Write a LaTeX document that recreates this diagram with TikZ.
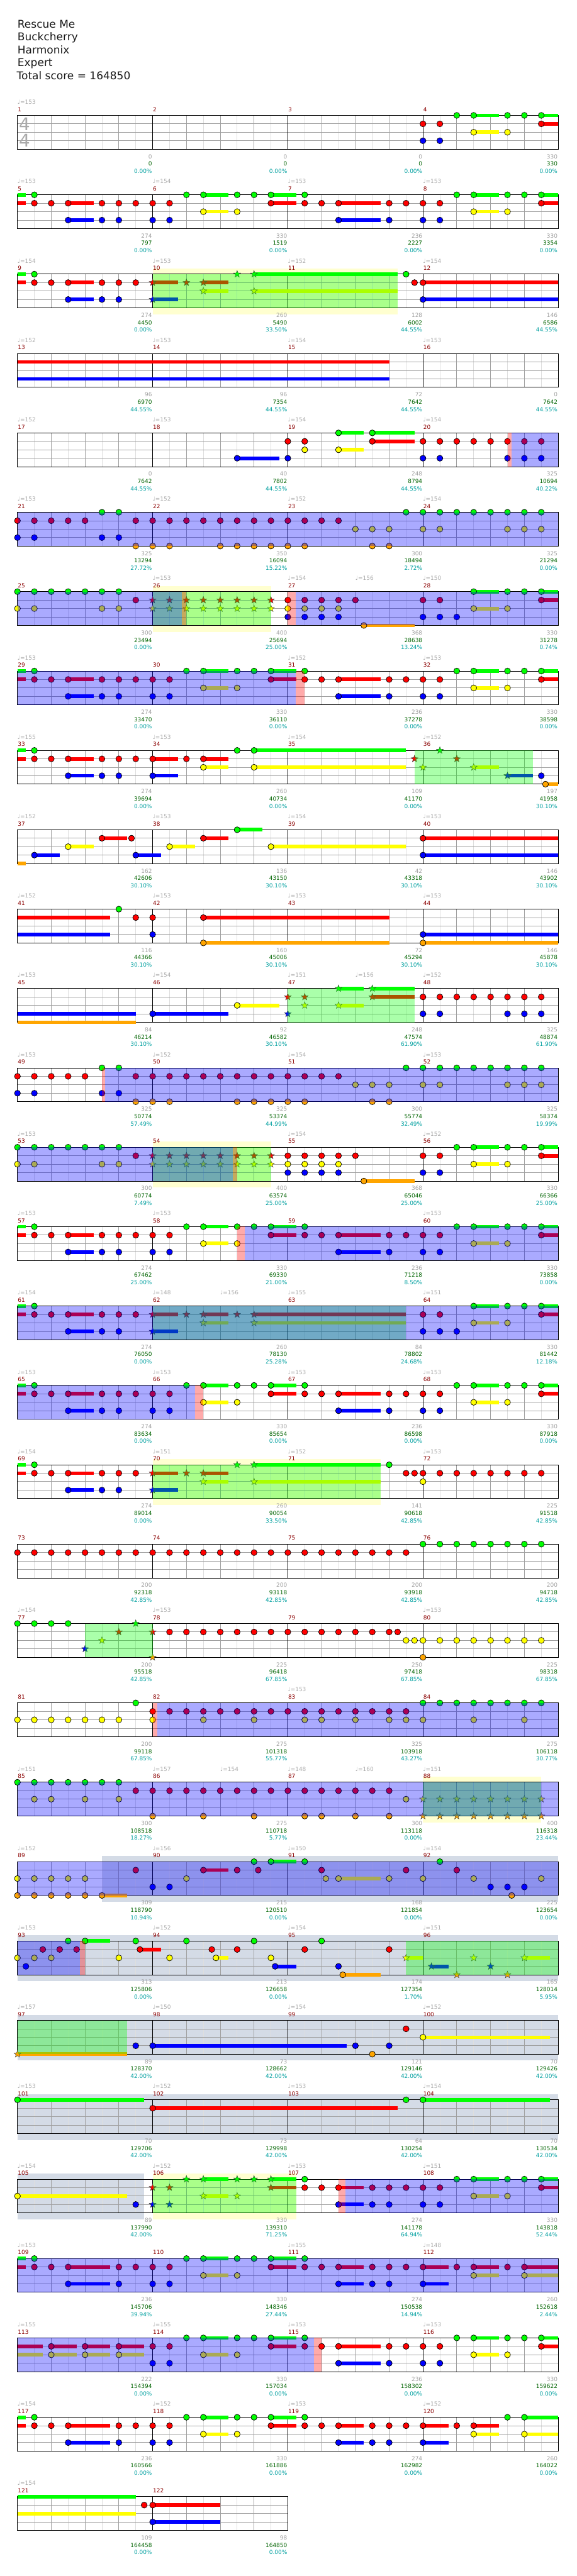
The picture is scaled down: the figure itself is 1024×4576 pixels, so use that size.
\documentclass[tikz,border=0pt]{standalone}
\usepackage{fontspec}
\setmainfont{DejaVu Sans}
\definecolor{lc0}{RGB}{0,255,0}
\definecolor{lc1}{RGB}{255,0,0}
\definecolor{lc2}{RGB}{255,255,0}
\definecolor{lc3}{RGB}{0,0,255}
\definecolor{lc4}{RGB}{255,165,0}
\definecolor{mred}{RGB}{139,0,0}
\definecolor{sgray}{RGB}{160,160,160}
\definecolor{sgreen}{RGB}{0,100,0}
\definecolor{steal}{RGB}{0,160,160}
\definecolor{tgray}{RGB}{170,170,170}
\definecolor{beatg}{RGB}{160,160,160}
\definecolor{halfg}{RGB}{222,222,222}
\definecolor{paley}{RGB}{255,255,208}
\definecolor{bandg}{RGB}{212,219,230}
\definecolor{hdr}{RGB}{25,25,25}
\newcommand\GRID[1]{%
 \foreach \i in {1,...,#1}{\draw[halfl] ({\i-0.5},0) -- ({\i-0.5},4);}%
 \foreach \i in {1,...,#1}{\draw[beatl] (\i,0) -- (\i,4);}%
 \foreach \j in {1,2,3}{\draw[lanel] (0,\j) -- (#1,\j);}%
 \foreach \i in {4,8,...,#1}{\draw[barl] (\i,0) -- (\i,4);}%
 \draw[barl] (0,0) rectangle (#1,4);}
\newcommand\NT[2]{\foreach \yy in {#2}{\foreach \xx in {#1}{\filldraw[notec,fill=lc\yy] (\xx,\yy) circle[radius=5.3pt];}}}
\newcommand\STR[2]{\foreach \yy in {#2}{\foreach \xx in {#1}{\filldraw[starc,fill=lc\yy] (\xx,\yy) +(90:6.5pt) -- +(126:2.7pt) -- +(162:6.5pt) -- +(198:2.7pt) -- +(234:6.5pt) -- +(270:2.7pt) -- +(306:6.5pt) -- +(342:2.7pt) -- +(18:6.5pt) -- +(54:2.7pt) -- cycle;}}}
\newcommand\SU[3]{\foreach \yy in {#3}{\draw[sus,draw=lc\yy] (#1,\yy) -- (#2,\yy);}}
\newcommand\OV[3]{\fill[#1,opacity=0.333] (#2,0) rectangle (#3,4);}
\newcommand\BD[3]{\fill[#1] (#2,-0.667) rectangle (#3,4.75);}
\newcommand\MM[5]{%
 \node[mnum] (mn#2) at ({4*#1},-0.47) {#2};
 \node[sca] (sa#2) at ({4*#1+4},5.11) {#3};
 \node[scb] (sb#2) at ({4*#1+4},5.98) {#4};
 \node[scc] (sc#2) at ({4*#1+4},6.85) {#5};}
\newcommand\TP[3]{\node[tmp] (#1) at (#2,-1.33) {\char"2669=#3};}
\newcommand\PatA{%
 \SU{0}{0.25}{0,1}\SU{1.5}{2.25}{1,3}\SU{5.5}{6.25}{0,2}\SU{7.5}{8.25}{0,1}\SU{9.5}{10.75}{1,3}\SU{13.5}{14.25}{0,2}\SU{15.5}{16}{0,1}%
 \NT{0.5,5,5.5,6.5,7,7.5,8.5,13,13.5,14.5,15,15.5}{0}%
 \NT{0.5,1,1.5,2.5,3,3.5,4,4.5,7.5,8.5,9,9.5,11,11.5,12,12.5,15.5}{1}%
 \NT{1.5,2.5,3,4,4.5,9.5,11,12,12.5}{3}%
 \NT{5.5,6.5,13.5,14.5}{2}}
\begin{document}
\begin{tikzpicture}[x=1pt,y=-1pt,
 notec/.style={draw=black,line width=0.8pt},
 starc/.style={draw=black!75,line width=0.5pt},
 sus/.style={line width=6.5pt,line cap=butt},
 halfl/.style={draw=halfg,line width=1pt},
 beatl/.style={draw=beatg,line width=1pt},
 lanel/.style={draw=beatg,line width=1pt},
 barl/.style={draw=black,line width=1pt},
 lbl/.style={inner sep=0pt,font=\fontsize{10}{12}\selectfont},
 mnum/.style={lbl,anchor=base west,text=mred,xshift=0.5pt},
 sca/.style={lbl,anchor=base east,text=sgray,xshift=-1pt},
 scb/.style={lbl,anchor=base east,text=sgreen,xshift=-1pt},
 scc/.style={lbl,anchor=base east,text=steal,xshift=-1pt},
 tmp/.style={lbl,anchor=base west,text=tgray},
 hd/.style={anchor=base west,inner sep=0pt,text=hdr,font=\fontsize{19}{23}\selectfont},
 ts/.style={inner sep=0pt,text=tgray,font=\fontsize{31}{31}\selectfont},
 rowat/.style={shift={(31,{205+141*#1})},x=60pt,y=-15pt}]
\useasboundingbox (0,0) rectangle (1024,4576);
\fill[white] (0,0) rectangle (1024,4576);
\node[hd] (h1) at (31,49.3) {Rescue Me};
\node[hd] (h2) at (31,72.3) {Buckcherry};
\node[hd] (h3) at (31,95.3) {Harmonix};
\node[hd] (h4) at (31,118.3) {Expert};
\node[hd] (h5) at (29.5,141.7) {Total score = 164850};
% row 0
\begin{scope}[rowat=0]
\GRID{16}
\node[ts] (ts1) at (0.21,1) {4};
\node[ts] (ts2) at (0.21,3) {4};
\SU{13.5}{14.25}{0,2}\SU{15.5}{16}{0,1}
\NT{12,12.5}{1,3}\NT{13,13.5,14.5,15,15.5}{0}\NT{13.5,14.5}{2}\NT{15.5}{1}
\TP{t1}{0}{153}
\MM{0}{1}{0}{0}{0.00\%}\MM{1}{2}{0}{0}{0.00\%}\MM{2}{3}{0}{0}{0.00\%}\MM{3}{4}{330}{330}{0.00\%}
\end{scope}
% row 1
\begin{scope}[rowat=1]
\GRID{16}
\PatA
\TP{t5}{0}{153}\TP{t6}{4}{154}\TP{t7}{8}{153}\TP{t8}{12}{153}
\MM{0}{5}{274}{797}{0.00\%}\MM{1}{6}{330}{1519}{0.00\%}\MM{2}{7}{236}{2227}{0.00\%}\MM{3}{8}{330}{3354}{0.00\%}
\end{scope}
% row 2
\begin{scope}[rowat=2]
\BD{paley}{4}{11.25}
\GRID{16}
\SU{0}{0.25}{0,1}\SU{1.5}{2.25}{1,3}\SU{4}{4.75}{1,3}\SU{5.5}{6.25}{1,2}\SU{7}{11.25}{0,2}\SU{12}{16}{1,3}
\NT{0.5}{0}\NT{0.5,1,1.5,2.5,3,3.5}{1}\NT{1.5,2.5,3}{3}
\STR{4}{1,3}\STR{5}{1}\STR{5.5}{1,2}\STR{6.5}{0}\STR{7}{0,2}
\NT{11.5}{0}\NT{11.75,12}{1}\NT{12}{3}
\OV{lc0}{4}{11.25}
\TP{t9}{0}{154}\TP{t10}{4}{153}\TP{t11}{8}{152}\TP{t12}{12}{154}
\MM{0}{9}{274}{4450}{0.00\%}\MM{1}{10}{260}{5490}{33.50\%}\MM{2}{11}{128}{6002}{44.55\%}\MM{3}{12}{146}{6586}{44.55\%}
\end{scope}
% row 3
\begin{scope}[rowat=3]
\GRID{16}
\SU{0}{11}{1,3}
\TP{t13}{0}{152}\TP{t14}{4}{153}\TP{t15}{8}{154}\TP{t16}{12}{153}
\MM{0}{13}{96}{6970}{44.55\%}\MM{1}{14}{96}{7354}{44.55\%}\MM{2}{15}{72}{7642}{44.55\%}\MM{3}{16}{0}{7642}{44.55\%}
\end{scope}
% row 4
\begin{scope}[rowat=4]
\GRID{16}
\SU{6.5}{7.75}{3}\SU{9.5}{10.25}{0,2}\SU{10.5}{11.75}{0,1}
\NT{6.5,8,12,12.5,14.5,15,15.5}{3}
\NT{8,8.5,10.5,12,12.5,13,13.5,14,14.5,15,15.5}{1}
\NT{8.5,9.5}{2}\NT{9.5,10.5}{0}
\OV{lc1}{14.5}{14.62}\OV{lc3}{14.62}{16}
\TP{t17}{0}{152}\TP{t18}{4}{153}\TP{t19}{8}{154}\TP{t20}{12}{154}
\MM{0}{17}{0}{7642}{44.55\%}\MM{1}{18}{40}{7802}{44.55\%}\MM{2}{19}{248}{8794}{44.55\%}\MM{3}{20}{325}{10694}{40.22\%}
\end{scope}
% row 5
\begin{scope}[rowat=5]
\GRID{16}
\NT{0,0.5,1,1.5,2}{1}\NT{3.5,4,...,9.5}{1}
\NT{2.5,3}{0}\NT{11.5,12,...,15.5}{0}
\NT{0,0.5,2.5,3}{3}
\NT{3.5,4,4.5,6,6.5,7,7.5,8,8.5,10.5,11}{4}
\NT{10,10.5,11,12,12.5,14.5,15,15.5}{2}
\OV{lc3}{0}{16}
\TP{t21}{0}{153}\TP{t22}{4}{152}\TP{t23}{8}{152}\TP{t24}{12}{154}
\MM{0}{21}{325}{13294}{27.72\%}\MM{1}{22}{350}{16094}{15.22\%}\MM{2}{23}{300}{18494}{2.72\%}\MM{3}{24}{325}{21294}{0.00\%}
\end{scope}
% row 6
\begin{scope}[rowat=6]
\BD{paley}{4}{7.5}
\GRID{16}
\SU{10.25}{11.75}{4}\SU{13.5}{14.25}{0,2}\SU{15.5}{16}{0,1}
\NT{0,0.5,...,3}{0}\NT{0,0.5,2.5,3}{2}\NT{3.5}{1}
\STR{4,4.5,...,7.5}{1,2}
\NT{8,8.5,9,9.5,10,12,12.5,15.5}{1}\NT{8,8.5,9,9.5}{2,3}\NT{10.25}{4}\NT{12,12.5,13}{3}\NT{13.5,14.5,15,15.5}{0}\NT{13.5,14.5}{2}
\OV{lc0}{4}{7.5}\OV{lc3}{0}{4.87}\OV{lc1}{4.87}{5}\OV{lc1}{8}{8.23}\OV{lc3}{8.23}{16}
\TP{t26}{4}{153}\TP{t27}{8}{154}\TP{t27b}{10}{156}\TP{t28}{12}{150}
\MM{0}{25}{300}{23494}{0.00\%}\MM{1}{26}{400}{25694}{25.00\%}\MM{2}{27}{368}{28638}{13.24\%}\MM{3}{28}{330}{31278}{0.74\%}
\end{scope}
% row 7
\begin{scope}[rowat=7]
\GRID{16}
\PatA
\OV{lc3}{0}{8.23}\OV{lc1}{8.23}{8.5}
\TP{t29}{0}{153}\TP{t31}{8}{152}\TP{t32}{12}{153}
\MM{0}{29}{274}{33470}{0.00\%}\MM{1}{30}{330}{36110}{0.00\%}\MM{2}{31}{236}{37278}{0.00\%}\MM{3}{32}{330}{38598}{0.00\%}
\end{scope}
% row 8
\begin{scope}[rowat=8]
\GRID{16}
\SU{0}{0.25}{0,1}\SU{1.5}{2.25}{1,3}\SU{4}{4.75}{1,3}\SU{5.5}{6.25}{1,2}\SU{7}{11.5}{0,2}\SU{13.5}{14.25}{2}\SU{14.5}{15.25}{3}\SU{15.625}{16}{4}
\NT{0.5,6.5,7}{0}\NT{0.5,1,1.5,2.5,3,3.5,4,5,5.5}{1}\NT{1.5,2.5,3,4,15.5}{3}\NT{5.5,7}{2}
\STR{11.75,13}{1}\STR{12.5}{0}\STR{12,13.5}{2}\STR{14.5}{3}\NT{15.625}{4}
\OV{lc0}{11.75}{15.25}
\TP{t33}{0}{155}\TP{t34}{4}{153}\TP{t35}{8}{154}\TP{t36}{12}{152}
\MM{0}{33}{274}{39694}{0.00\%}\MM{1}{34}{260}{40734}{0.00\%}\MM{2}{35}{109}{41170}{0.00\%}\MM{3}{36}{197}{41958}{30.10\%}
\end{scope}
% row 9
\begin{scope}[rowat=9]
\GRID{16}
\SU{0}{0.25}{4}\SU{0.5}{1.25}{3}\SU{1.5}{2.25}{2}\SU{2.5}{3.25}{1}\SU{3.5}{4.25}{3}\SU{4.5}{5.25}{2}\SU{5.5}{6.25}{1}\SU{6.5}{7.25}{0}\SU{7.5}{11.5}{2}\SU{12}{16}{1,3}
\NT{0.5,3.5,12}{3}\NT{1.5,4.5,7.5}{2}\NT{2.5,3.375,5.5,12}{1}\NT{6.5}{0}
\TP{t37}{0}{152}\TP{t38}{4}{153}\TP{t39}{8}{154}\TP{t40}{12}{153}
\MM{0}{37}{162}{42606}{30.10\%}\MM{1}{38}{136}{43150}{30.10\%}\MM{2}{39}{42}{43318}{30.10\%}\MM{3}{40}{146}{43902}{30.10\%}
\end{scope}
% row 10
\begin{scope}[rowat=10]
\GRID{16}
\SU{0}{2.75}{1,3}\SU{5.5}{11}{1,4}\SU{12}{16}{3,4}
\NT{3}{0}\NT{3.5,4,5.5}{1}\NT{4,12}{3}\NT{5.5,12}{4}
\TP{t41}{0}{152}\TP{t42}{4}{153}\TP{t43}{8}{153}\TP{t44}{12}{153}
\MM{0}{41}{116}{44366}{30.10\%}\MM{1}{42}{160}{45006}{30.10\%}\MM{2}{43}{72}{45294}{30.10\%}\MM{3}{44}{146}{45878}{30.10\%}
\end{scope}
% row 11
\begin{scope}[rowat=11]
\GRID{16}
\SU{0}{3.5}{3,4}\SU{4}{6.25}{3}\SU{6.5}{7.75}{2}\SU{9.5}{10.25}{0,2}\SU{10.5}{11.75}{0,1}
\NT{4}{3}\NT{6.5}{2}
\STR{8}{1,3}\STR{8.5}{1,2}\STR{9.5}{0,2}\STR{10.5}{0,1}
\NT{12,12.5,...,15.5}{1}\NT{12,12.5,14.5,15,15.5}{3}
\OV{lc0}{8}{11.75}
\TP{t45}{0}{153}\TP{t46}{4}{154}\TP{t47}{8}{151}\TP{t47b}{10}{156}\TP{t48}{12}{152}
\MM{0}{45}{84}{46214}{30.10\%}\MM{1}{46}{92}{46582}{30.10\%}\MM{2}{47}{248}{47574}{61.90\%}\MM{3}{48}{325}{48874}{61.90\%}
\end{scope}
% row 12
\begin{scope}[rowat=12]
\GRID{16}
\NT{0,0.5,1,1.5,2}{1}\NT{3.5,4,...,9.5}{1}
\NT{0,0.5,2.5,3}{3}
\NT{2.5,3}{0}\NT{11.5,12,...,15.5}{0}
\NT{3.5,4,4.5,6.5,7,7.5,8,8.5,10.5,11}{4}
\NT{10,10.5,11,12,12.5,14.5,15,15.5}{2}
\OV{lc1}{2.5}{2.6}\OV{lc3}{2.6}{16}
\TP{t49}{0}{153}\TP{t50}{4}{152}\TP{t51}{8}{154}\TP{t52}{12}{153}
\MM{0}{49}{325}{50774}{57.49\%}\MM{1}{50}{325}{53374}{44.99\%}\MM{2}{51}{300}{55774}{32.49\%}\MM{3}{52}{325}{58374}{19.99\%}
\end{scope}
% row 13
\begin{scope}[rowat=13]
\BD{paley}{4}{7.5}
\GRID{16}
\SU{10.25}{11.75}{4}\SU{13.5}{14.25}{0,2}\SU{15.5}{16}{0,1}
\NT{0,0.5,...,3}{0}\NT{0,0.5,2.5,3}{2}\NT{3.5}{1}
\STR{4,4.5,...,7.5}{1,2}
\NT{8,8.5,9,9.5,10,12,12.5,15.5}{1}\NT{8,8.5,9,9.5}{2,3}\NT{10.25}{4}\NT{12,12.5}{3}\NT{13,13.5,14.5,15,15.5}{0}\NT{13.5,14.5}{2}
\OV{lc0}{4}{7.5}\OV{lc3}{0}{6.38}\OV{lc1}{6.38}{6.5}
\TP{t53}{0}{153}\TP{t55}{8}{154}\TP{t56}{12}{152}
\MM{0}{53}{300}{60774}{7.49\%}\MM{1}{54}{400}{63574}{25.00\%}\MM{2}{55}{368}{65046}{25.00\%}\MM{3}{56}{330}{66366}{25.00\%}
\end{scope}
% row 14
\begin{scope}[rowat=14]
\GRID{16}
\PatA
\OV{lc1}{6.5}{6.73}\OV{lc3}{6.73}{16}
\TP{t57}{0}{153}\TP{t58}{4}{153}\TP{t60}{12}{153}
\MM{0}{57}{274}{67462}{25.00\%}\MM{1}{58}{330}{69330}{21.00\%}\MM{2}{59}{236}{71218}{8.50\%}\MM{3}{60}{330}{73858}{0.00\%}
\end{scope}
% row 15
\begin{scope}[rowat=15]
\GRID{16}
\SU{0}{0.25}{0,1}\SU{1.5}{2.25}{1,3}\SU{4}{4.75}{1,3}\SU{5.5}{6.25}{1,2}\SU{7}{11.5}{1,2}\SU{13.5}{14.25}{0,2}\SU{15.5}{16}{0,1}
\NT{0.5}{0}\NT{0.5,1,1.5,2.5,3,3.5}{1}\NT{1.5,2.5,3}{3}
\STR{4,5,5.5,6.5,7}{1}\STR{4}{3}\STR{5.5,7}{2}
\NT{12,12.5,15.5}{1}\NT{12,12.5,13}{3}\NT{13.5,14.5,15,15.5}{0}\NT{13.5,14.5}{2}
\OV{lc0}{4}{11.5}\OV{lc3}{0}{16}
\TP{t61}{0}{154}\TP{t62}{4}{148}\TP{t62b}{6}{156}\TP{t63}{8}{155}\TP{t64}{12}{151}
\MM{0}{61}{274}{76050}{0.00\%}\MM{1}{62}{260}{78130}{25.28\%}\MM{2}{63}{84}{78802}{24.68\%}\MM{3}{64}{330}{81442}{12.18\%}
\end{scope}
% row 16
\begin{scope}[rowat=16]
\GRID{16}
\PatA
\OV{lc3}{0}{5.25}\OV{lc1}{5.25}{5.5}
\TP{t65}{0}{153}\TP{t66}{4}{153}\TP{t67}{8}{153}\TP{t68}{12}{153}
\MM{0}{65}{274}{83634}{0.00\%}\MM{1}{66}{330}{85654}{0.00\%}\MM{2}{67}{236}{86598}{0.00\%}\MM{3}{68}{330}{87918}{0.00\%}
\end{scope}
% row 17
\begin{scope}[rowat=17]
\BD{paley}{4}{10.75}
\GRID{16}
\SU{0}{0.25}{0,1}\SU{1.5}{2.25}{1,3}\SU{4}{4.75}{1,3}\SU{5.5}{6.25}{1,2}\SU{7}{10.75}{0,2}
\NT{0.5}{0}\NT{0.5,1,1.5,2.5,3,3.5}{1}\NT{1.5,2.5,3}{3}
\STR{4,5,5.5}{1}\STR{4}{3}\STR{5.5,7}{2}\STR{6.5,7}{0}
\NT{11}{0}\NT{11.5,11.75}{1}\NT{12,12.5,...,15.5}{1}\NT{12}{2}
\OV{lc0}{4}{10.75}
\TP{t69}{0}{154}\TP{t70}{4}{151}\TP{t71}{8}{152}\TP{t72}{12}{153}
\MM{0}{69}{274}{89014}{0.00\%}\MM{1}{70}{260}{90054}{33.50\%}\MM{2}{71}{141}{90618}{42.85\%}\MM{3}{72}{225}{91518}{42.85\%}
\end{scope}
% row 18
\begin{scope}[rowat=18]
\GRID{16}
\NT{0,0.5,...,11.5}{1}\NT{12,12.5,...,15.5}{0}
\MM{0}{73}{200}{92318}{42.85\%}\MM{1}{74}{200}{93118}{42.85\%}\MM{2}{75}{200}{93918}{42.85\%}\MM{3}{76}{200}{94718}{42.85\%}
\end{scope}
% row 19
\begin{scope}[rowat=19]
\GRID{16}
\NT{0,0.5,1,1.5}{0}
\STR{2}{3}\STR{2.5}{2}\STR{3}{1}\STR{3.5}{0}\STR{4}{1,4}
\NT{4.5,5,...,11}{1}\NT{11.25}{1}
\NT{11.5,11.75}{2}\NT{12,12.5,...,15.5}{2}\NT{12}{4}
\OV{lc0}{2}{4}
\TP{t77}{0}{154}\TP{t78}{4}{153}\TP{t80}{12}{153}
\MM{0}{77}{200}{95518}{42.85\%}\MM{1}{78}{225}{96418}{67.85\%}\MM{2}{79}{250}{97418}{67.85\%}\MM{3}{80}{225}{98318}{67.85\%}
\end{scope}
% row 20
\begin{scope}[rowat=20]
\GRID{16}
\NT{0,0.5,...,3}{2}\NT{3.5}{0}
\NT{4,4.5,...,11.5}{1}
\NT{4,5.5,7,8.5,9,10,11,11.5,12,13.5,15}{2}
\NT{12,12.5,...,15.5}{0}
\OV{lc1}{4}{4.13}\OV{lc3}{4.13}{16}
\TP{t83}{8}{153}
\MM{0}{81}{200}{99118}{67.85\%}\MM{1}{82}{275}{101318}{55.77\%}\MM{2}{83}{325}{103918}{43.27\%}\MM{3}{84}{275}{106118}{30.77\%}
\end{scope}
% row 21
\begin{scope}[rowat=21]
\BD{paley}{12}{15.5}
\GRID{16}
\NT{0,0.5,...,3}{0}\NT{0.5,1,2,3,11.5}{2}
\NT{3.5,4,...,11}{1}
\NT{4,5.5,7,8.5,9,10,11}{4}
\STR{12,12.5,...,15.5}{2,4}
\OV{lc0}{12}{15.5}\OV{lc3}{0}{16}
\TP{t85}{0}{151}\TP{t86}{4}{157}\TP{t86b}{6}{154}\TP{t87}{8}{148}\TP{t87b}{10}{160}\TP{t88}{12}{151}
\MM{0}{85}{300}{108518}{18.27\%}\MM{1}{86}{275}{110718}{5.77\%}\MM{2}{87}{300}{113118}{0.00\%}\MM{3}{88}{400}{116318}{23.44\%}
\end{scope}
% row 22
\begin{scope}[rowat=22]
\BD{bandg}{2.5}{16}
\GRID{16}
\SU{2.5}{3.25}{4}\SU{5.5}{6.25}{1}\SU{7.5}{8.25}{0}\SU{9.5}{10.75}{2}
\NT{0,0.5,1,1.5,2,5,9.125,9.5,11,12,13.5,15.5}{2}
\NT{0,0.5,1,1.5,2,2.5,14.625}{4}
\NT{3.5,5.5,6.5,7.125,9,11.5,13}{1}
\NT{4,4.5,14,14.5,15}{3}
\NT{7,7.5,8.5,12.5}{0}
\OV{lc3}{0}{16}
\TP{t89}{0}{152}\TP{t90}{4}{156}\TP{t91}{8}{150}\TP{t92}{12}{154}
\MM{0}{89}{309}{118790}{10.94\%}\MM{1}{90}{215}{120510}{0.00\%}\MM{2}{91}{168}{121854}{0.00\%}\MM{3}{92}{225}{123654}{0.00\%}
\end{scope}
% row 23
\begin{scope}[rowat=23]
\BD{bandg}{0}{16}
\GRID{16}
\SU{2}{2.75}{0}\SU{3.625}{4.25}{1}\SU{5.875}{6.25}{2}\SU{7.625}{8.25}{3}\SU{9.625}{10.75}{4}\SU{11.5}{12}{2}\SU{12.25}{12.75}{3}\SU{15}{15.75}{2}
\NT{0,0.5,1,3,4.5,5.875,7.5}{2}
\NT{0.25,7.625,9.5}{3}
\NT{0.75,1.25,1.75,3.625,5.75,6.5,8.5,11}{1}
\NT{1.5,2,3.5,5,7,9}{0}
\NT{9.625}{4}
\STR{11.5,13.5,15}{2}\STR{12.25,14}{3}\STR{13,14.5}{4}
\OV{lc0}{11.5}{16}\OV{lc3}{0}{1.84}\OV{lc1}{1.84}{2}
\TP{t93}{0}{153}\TP{t94}{4}{152}\TP{t95}{8}{154}\TP{t96}{12}{151}
\MM{0}{93}{313}{125806}{0.00\%}\MM{1}{94}{213}{126658}{0.00\%}\MM{2}{95}{174}{127354}{1.70\%}\MM{3}{96}{165}{128014}{5.95\%}
\end{scope}
% row 24
\begin{scope}[rowat=24]
\BD{bandg}{0}{16}
\GRID{16}
\SU{0}{3.25}{4}\SU{4}{9.75}{3}\SU{12}{15.75}{2}
\STR{0}{4}
\NT{3.5,4,10,11}{3}\NT{10.5}{4}\NT{11.5}{1}\NT{12}{2}
\OV{lc0}{0}{3.25}
\TP{t97}{0}{157}\TP{t98}{4}{150}\TP{t99}{8}{154}\TP{t100}{12}{152}
\MM{0}{97}{89}{128370}{42.00\%}\MM{1}{98}{73}{128662}{42.00\%}\MM{2}{99}{121}{129146}{42.00\%}\MM{3}{100}{70}{129426}{42.00\%}
\end{scope}
% row 25
\begin{scope}[rowat=25]
\BD{bandg}{0}{16}
\GRID{16}
\SU{0}{3.75}{0}\SU{4}{11.25}{1}\SU{12}{15.75}{0}
\NT{0,11.5,12}{0}\NT{4}{1}
\TP{t101}{0}{153}\TP{t102}{4}{152}\TP{t103}{8}{153}\TP{t104}{12}{154}
\MM{0}{101}{70}{129706}{42.00\%}\MM{1}{102}{73}{129998}{42.00\%}\MM{2}{103}{64}{130254}{42.00\%}\MM{3}{104}{70}{130534}{42.00\%}
\end{scope}
% row 26
\begin{scope}[rowat=26]
\BD{bandg}{0}{3.75}\BD{paley}{4}{8.25}
\GRID{16}
\SU{0}{3.25}{2}\SU{5.5}{6.25}{0,2}\SU{7.5}{8.25}{0,1}\SU{9.5}{10.25}{1,3}\SU{13.5}{14.25}{0,2}\SU{15.5}{16}{0,1}
\NT{0}{2}\NT{3.5}{3}
\STR{4,4.5}{1,3}\STR{5,5.5,6.5,7,7.5}{0}\STR{5.5,6.5}{2}\STR{7.5}{1}
\NT{8.5,13,13.5,14.5,15,15.5}{0}
\NT{8.5,9,9.5,10.5,11,11.5,12,12.5,15.5}{1}
\NT{9.5,10.5,11,12,12.5}{3}
\NT{13.5,14.5}{2}
\OV{lc0}{4}{8.25}\OV{lc1}{9.5}{9.7}\OV{lc3}{9.7}{16}
\TP{t105}{0}{154}\TP{t106}{4}{152}\TP{t107}{8}{153}\TP{t108}{12}{151}
\MM{0}{105}{89}{137990}{42.00\%}\MM{1}{106}{330}{139310}{71.25\%}\MM{2}{107}{274}{141178}{64.94\%}\MM{3}{108}{330}{143818}{52.44\%}
\end{scope}
% row 27
\begin{scope}[rowat=27]
\GRID{16}
\SU{0}{0.25}{0,1}\SU{1.5}{2.75}{1,3}\SU{5.5}{6.25}{0,2}\SU{7.5}{8.25}{0,1}\SU{9.5}{10.25}{1,3}\SU{12}{12.75}{1,3}\SU{13.5}{14.25}{1,2}\SU{15}{16}{1,2}
\NT{0.5,5,5.5,6.5,7,7.5,8.5}{0}
\NT{0.5,1,1.5,3,3.5,4,4.5,7.5,8.5,9,9.5,10.5,11,11.5,12,13,13.5,14.5,15}{1}
\NT{1.5,3,4,4.5,9.5,10.5,11,12}{3}
\NT{5.5,6.5,13.5,15}{2}
\OV{lc3}{0}{16}
\TP{t109}{0}{153}\TP{t111}{8}{155}\TP{t112}{12}{148}
\MM{0}{109}{236}{145706}{39.94\%}\MM{1}{110}{330}{148346}{27.44\%}\MM{2}{111}{274}{150538}{14.94\%}\MM{3}{112}{260}{152618}{2.44\%}
\end{scope}
% row 28
\begin{scope}[rowat=28]
\GRID{16}
\SU{0}{0.75}{1,2}\SU{1}{1.75}{1,2}\SU{2}{2.75}{1,2}\SU{3}{3.75}{1,2}\SU{5.5}{6.25}{0,2}\SU{7.5}{8.25}{0,1}\SU{9.5}{10.75}{1,3}\SU{13.5}{14.25}{0,2}\SU{15.5}{16}{0,1}
\NT{1,2,3,4,4.5,7.5,8.5,9,9.5,11,11.5,12,12.5,15.5}{1}
\NT{1,2,3,5.5,6.5,13.5,14.5}{2}
\NT{4,4.5,9.5,11,12,12.5}{3}
\NT{5,5.5,6.5,7,7.5,8.5,13,13.5,14.5,15,15.5}{0}
\OV{lc3}{0}{8.78}\OV{lc1}{8.78}{9}
\TP{t113}{0}{155}\TP{t114}{4}{155}\TP{t115}{8}{153}\TP{t116}{12}{153}
\MM{0}{113}{222}{154394}{0.00\%}\MM{1}{114}{330}{157034}{0.00\%}\MM{2}{115}{236}{158302}{0.00\%}\MM{3}{116}{330}{159622}{0.00\%}
\end{scope}
% row 29
\begin{scope}[rowat=29]
\GRID{16}
\SU{0}{0.25}{0,1}\SU{1.5}{2.75}{1,3}\SU{5.5}{6.25}{0,2}\SU{7.5}{8.25}{0,1}\SU{9.5}{10.25}{1,3}\SU{12}{12.75}{1,3}\SU{13.5}{14.25}{1,2}\SU{15}{16}{0,2}
\NT{0.5,5,5.5,6.5,7,7.5,8.5,14.5,15}{0}
\NT{0.5,1,1.5,3,3.5,4,4.5,7.5,8.5,9,9.5,10.5,11,11.5,12,13,13.5}{1}
\NT{1.5,3,4,4.5,9.5,10.5,11,12}{3}
\NT{5.5,6.5,13.5,15}{2}
\TP{t117}{0}{154}\TP{t118}{4}{152}\TP{t119}{8}{153}\TP{t120}{12}{152}
\MM{0}{117}{236}{160566}{0.00\%}\MM{1}{118}{330}{161886}{0.00\%}\MM{2}{119}{274}{162982}{0.00\%}\MM{3}{120}{260}{164022}{0.00\%}
\end{scope}
% row 30
\begin{scope}[rowat=30]
\GRID{8}
\SU{0}{3.5}{0,2}\SU{4}{6}{1,3}
\NT{3.75,4}{1}\NT{4}{3}
\TP{t121}{0}{154}
\MM{0}{121}{109}{164458}{0.00\%}\MM{1}{122}{98}{164850}{0.00\%}
\end{scope}
\end{tikzpicture}
\end{document}
